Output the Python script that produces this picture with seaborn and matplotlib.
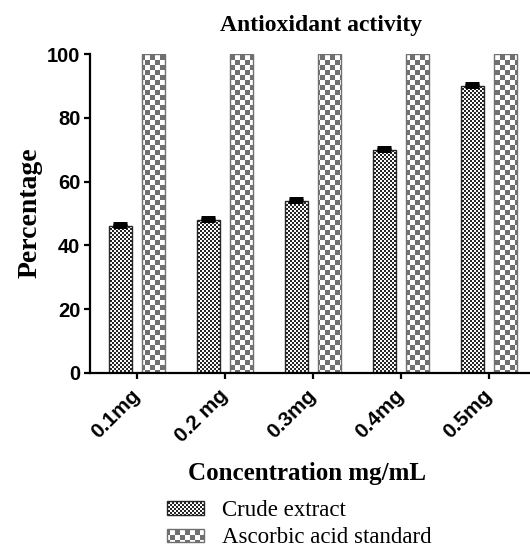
import numpy as np
import pandas as pd
import matplotlib
matplotlib.use("Agg")
import matplotlib.pyplot as plt
import matplotlib.hatch as mhatch
from matplotlib.path import Path
from matplotlib.patches import Patch
import seaborn as sns

# ---------------- data ----------------
concentrations = ["0.1mg", "0.2 mg", "0.3mg", "0.4mg", "0.5mg"]
samples = ["Crude extract", "Ascorbic acid standard"]
crude_values = [46, 48, 54, 70, 90]
crude_errors = [0.6, 0.6, 0.6, 0.6, 0.7]
ascorbic_values = [100, 100, 100, 100, 100]
y_ticks = [0, 20, 40, 60, 80, 100]


# ------------- checkerboard hatch (replaces '*') -------------
class CheckerHatch(mhatch.HatchPatternBase):
    def __init__(self, hatch, density):
        k = hatch.count("*")
        self.n = 0 if k == 0 else (20 if k == 1 else 50)
        self.num_vertices = (self.n * self.n // 2) * 5

    def set_vertices_and_codes(self, vertices, codes):
        n = self.n
        s = 1.0 / n
        idx = 0
        for i in range(n):
            for j in range(n):
                if (i + j) % 2 == 0:
                    x0, y0 = i * s, j * s
                    vertices[idx:idx + 5] = [(x0, y0), (x0 + s, y0), (x0 + s, y0 + s),
                                             (x0, y0 + s), (x0, y0)]
                    codes[idx:idx + 5] = [Path.MOVETO, Path.LINETO, Path.LINETO,
                                          Path.LINETO, Path.CLOSEPOLY]
                    idx += 5


mhatch._hatch_types = [t for t in mhatch._hatch_types if t is not mhatch.Stars] + [CheckerHatch]

sns.set_style("ticks")
plt.rcParams["hatch.linewidth"] = 0.01
plt.rcParams["font.family"] = ["Liberation Serif", "DejaVu Serif"]
for key in ["text.color", "axes.labelcolor", "xtick.color", "ytick.color", "axes.edgecolor"]:
    plt.rcParams[key] = "black"

df = pd.DataFrame({
    "Concentration": concentrations * 2,
    "Sample": [samples[0]] * len(concentrations) + [samples[1]] * len(concentrations),
    "Percentage": crude_values + ascorbic_values,
})

W, H = 530, 548
fig = plt.figure(figsize=(W / 100, H / 100), dpi=100)
ax = fig.add_axes([90 / W, 1 - 373 / H, 440 / W, 319 / H])

sns.barplot(data=df, x="Concentration", y="Percentage", hue="Sample",
            order=concentrations, hue_order=samples, palette=["white", "white"],
            saturation=1, width=0.75, gap=0.3, errorbar=None, legend=False, ax=ax)

styles = [dict(hatch="**", edgecolor="#262626"), dict(hatch="*", edgecolor="#707070")]
for cont, st in zip(ax.containers, styles):
    for bar in cont:
        bar.set_hatch(st["hatch"])
        bar.set_edgecolor(st["edgecolor"])
        bar.set_linewidth(1.0)

xs = [b.get_x() + b.get_width() / 2 for b in ax.containers[0]]
ax.errorbar(xs, crude_values, yerr=[np.zeros(len(crude_errors)), crude_errors],
            fmt="none", ecolor="black", elinewidth=1.5, capsize=5, capthick=3.6,
            zorder=5, solid_capstyle="round")

ax.set_xlim(-0.534, 4.466)
ax.set_ylim(0, 100)
ax.set_yticks(y_ticks, labels=[str(t) for t in y_ticks],
              fontsize=14.5, fontweight="bold", family="Liberation Sans")
ax.set_xticks(range(len(concentrations)), labels=concentrations, rotation=45,
              ha="right", va="center", rotation_mode="anchor",
              fontsize=15, fontweight="bold", family="Liberation Sans")
sns.despine(ax=ax)
for sp in ["left", "bottom"]:
    ax.spines[sp].set_linewidth(1.6)
    ax.spines[sp].set_color("black")
ax.tick_params(axis="both", length=4, width=1.6, color="black")
ax.tick_params(axis="y", pad=3)
ax.tick_params(axis="x", pad=10)

ax.set_xlabel("Concentration mg/mL", fontsize=18, fontweight="bold")
ax.xaxis.set_label_coords((307 - 90) / 440, (373 - 473) / 319)
ax.xaxis.label.set_va("center")
ax.set_ylabel("Percentage", fontsize=20, fontweight="bold")
ax.yaxis.set_label_coords((30 - 90) / 440, (373 - 213) / 319)
ax.yaxis.label.set_va("center")

fig.text(321 / W, 1 - 25 / H, "Antioxidant activity", ha="center", va="center",
         fontsize=17, fontweight="bold")

handles = [Patch(facecolor="white", edgecolor=s["edgecolor"], hatch=s["hatch"], linewidth=1.0)
           for s in styles]
fig.legend(handles=handles, labels=samples, loc="upper left",
           bbox_to_anchor=(167 / W, 1 - 500 / H), frameon=False,
           prop={"family": "Liberation Serif", "size": 16.5},
           handlelength=1.62, handleheight=0.53, handletextpad=0.78,
           labelspacing=0.28, borderpad=0, borderaxespad=0)

fig.savefig("out.png", dpi=100)
